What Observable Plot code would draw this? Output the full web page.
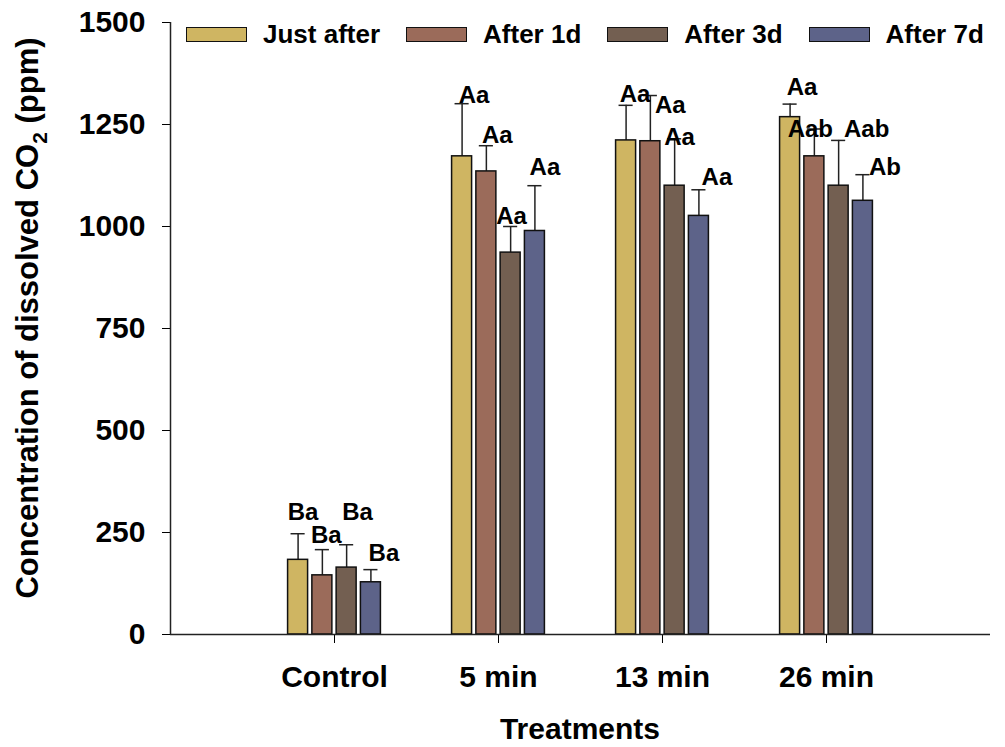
<!DOCTYPE html>
<html><head><meta charset="utf-8">
<script src="https://cdn.jsdelivr.net/npm/d3@7"></script>
<script src="https://cdn.jsdelivr.net/npm/@observablehq/plot@0.6"></script>
<style>
body{margin:0;background:#fff;font-family:"Liberation Sans",Arial,sans-serif;}
#wrap{position:relative;width:1005px;height:747px;}
#legend{position:absolute;left:186px;top:19px;display:flex;align-items:center;font-weight:bold;font-size:26px;color:#000;white-space:nowrap;width:max-content;}
.item{display:flex;align-items:center;margin-right:26px;flex-shrink:0;}
.sw{width:59px;height:13px;border:1.5px solid #111;margin-right:16px;flex-shrink:0;}
</style></head><body><div id="wrap"><div id="legend"></div></div>
<script>
const treatments = ["Control", "5 min", "13 min", "26 min"];
const series = ["Just after", "After 1d", "After 3d", "After 7d"];
const colors = ["#CFB562", "#9B6B5A", "#735F51", "#5D6389"];
const justAfter = [183, 1172, 1211, 1268];
const after1d   = [145, 1135, 1209, 1172];
const after3d   = [164, 936, 1100, 1100];
const after7d   = [128, 989, 1026, 1063];
const sdJustAfter = [64, 129, 86, 32];
const sdAfter1d   = [63, 63, 112, 67];
const sdAfter3d   = [56, 64, 115, 111];
const sdAfter7d   = [31, 111, 64, 64];
const lettersJustAfter = ["Ba", "Aa", "Aa", "Aa"];
const lettersAfter1d   = ["Ba", "Aa", "Aa", "Aab"];
const lettersAfter3d   = ["Ba", "Aa", "Aa", "Aab"];
const lettersAfter7d   = ["Ba", "Aa", "Aa", "Ab"];
// height (ppm) of each letter label above its error-bar top
const liftJustAfter = [53, 20, 28, 41];
const liftAfter1d   = [35, 25, -24, 0];
const liftAfter3d   = [80, 25, 3, 28];
const liftAfter7d   = [40, 45, 31, 17];
// horizontal nudge of each letter label from its bar centre, as placed in the figure
const shiftJustAfter = [5, 12, 9, 12];
const shiftAfter1d   = [4, 11, 20, -4];
const shiftAfter3d   = [11, 1, 5, 28];
const shiftAfter7d   = [13, 10, 18, 22];
const yTicks = [0, 250, 500, 750, 1000, 1250, 1500];

const meansBySeries = [justAfter, after1d, after3d, after7d];
const sdBySeries = [sdJustAfter, sdAfter1d, sdAfter3d, sdAfter7d];
const lettersBySeries = [lettersJustAfter, lettersAfter1d, lettersAfter3d, lettersAfter7d];
const liftBySeries = [liftJustAfter, liftAfter1d, liftAfter3d, liftAfter7d];
const shiftBySeries = [shiftJustAfter, shiftAfter1d, shiftAfter3d, shiftAfter7d];

const pitch = 0.148, bw = 0.122, cap = 0.043;
const rows = [];
treatments.forEach((t, i) => {
  series.forEach((s, j) => {
    const mean = meansBySeries[j][i];
    const top = mean + sdBySeries[j][i];
    rows.push({treatment: t, series: s, xc: i + 1 + (j - 1.5) * pitch,
      mean, top, labelY: top + liftBySeries[j][i], shift: shiftBySeries[j][i],
      letter: lettersBySeries[j][i]});
  });
});

const chart = Plot.plot({
  width: 1005, height: 747,
  marginLeft: 170, marginRight: 15, marginTop: 22, marginBottom: 113,
  x: {domain: [0, 5]},
  y: {domain: [0, 1500]},
  color: {domain: series, range: colors},
  style: {fontFamily: "'Liberation Sans', Arial, sans-serif", fontWeight: "bold", color: "#000", background: "#fff"},
  marks: [
    Plot.ruleX(rows, {x: "xc", y1: "mean", y2: "top", stroke: "#222", strokeWidth: 1.5}),
    Plot.ruleY(rows, {y: "top", x1: d => d.xc - cap, x2: d => d.xc + cap, stroke: "#222", strokeWidth: 1.5}),
    Plot.rectY(rows, {x1: d => d.xc - bw / 2, x2: d => d.xc + bw / 2, y1: 0, y2: "mean", fill: "series", stroke: "#111", strokeWidth: 1.5}),
    Plot.text(rows, {x: "xc", y: "labelY", text: "letter", fontSize: 24, fontWeight: "bold", fill: "#000"}),
    Plot.axisY({ticks: yTicks, tickSize: 8, tickPadding: 17, fontSize: 30, label: null, tickFormat: d => String(d)}),
    Plot.axisX({ticks: [1, 2, 3, 4], tickFormat: d => treatments[d - 1], tickSize: 9, tickPadding: 22, fontSize: 30, label: null}),
    Plot.ruleY([0], {stroke: "#222", strokeWidth: 1.5}),
    Plot.ruleX([0], {stroke: "#222", strokeWidth: 1.5})
  ]
});

const svg = d3.select(chart);
// apply the per-label horizontal nudges to the letter texts
const letterMark = svg.selectAll("g[aria-label='text'] text");
letterMark.each(function(_, k) {
  const r = rows[k];
  if (r) d3.select(this).attr("dx", r.shift);
});

const yt = svg.append("text")
  .attr("transform", "translate(30,318) rotate(-90)")
  .attr("text-anchor", "middle").attr("dominant-baseline", "middle")
  .attr("font-size", 31).attr("font-weight", "bold").attr("fill", "#000");
yt.append("tspan").text("Concentration of dissolved CO");
yt.append("tspan").attr("baseline-shift", "sub").attr("font-size", 21).text("2");
yt.append("tspan").text(" (ppm)");
svg.append("text")
  .attr("x", 580).attr("y", 731)
  .attr("text-anchor", "middle").attr("dominant-baseline", "middle")
  .attr("font-size", 30).attr("font-weight", "bold").attr("fill", "#000")
  .text("Treatments");

document.getElementById("wrap").prepend(chart);

const legend = d3.select("#legend");
series.forEach((s, j) => {
  const it = legend.append("div").attr("class", "item");
  it.append("div").attr("class", "sw").style("background", colors[j]);
  it.append("span").text(s);
});
</script></body></html>
